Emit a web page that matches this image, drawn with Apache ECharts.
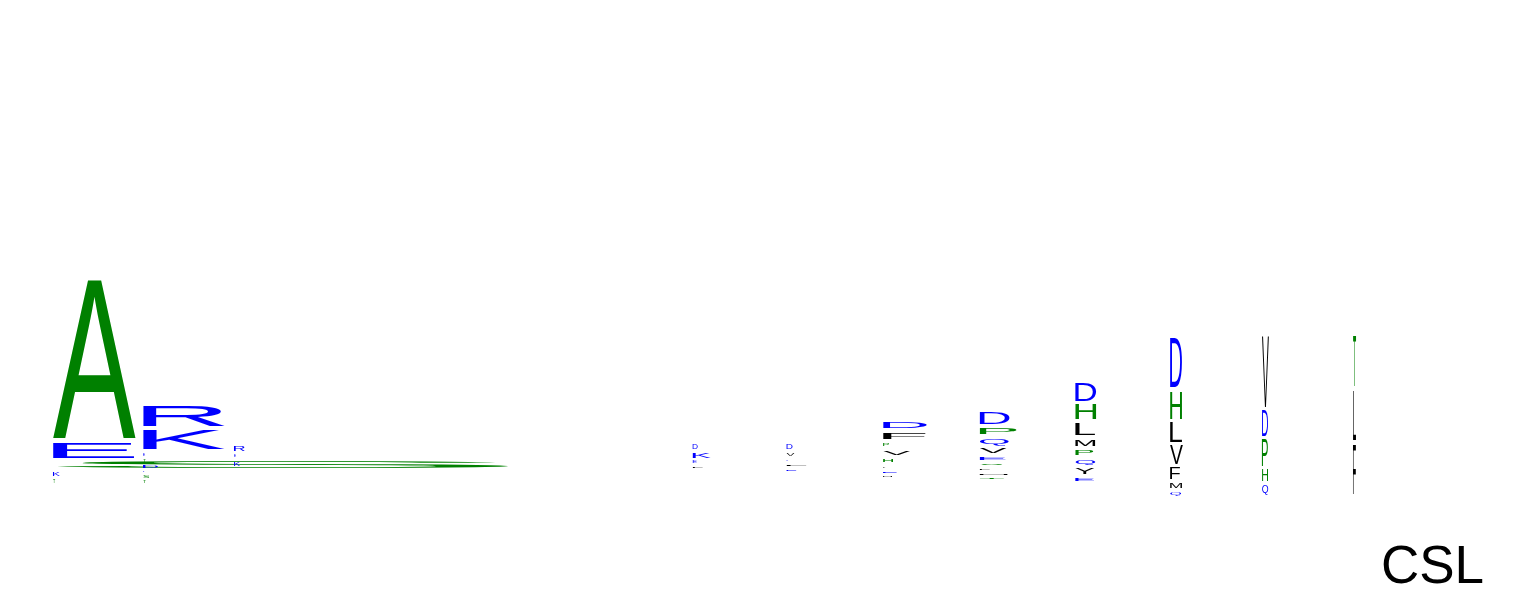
<!DOCTYPE html>
<html>
<head>
<meta charset="utf-8">
<script src="https://cdn.jsdelivr.net/npm/echarts@6/dist/echarts.min.js"></script>
<style>html,body{margin:0;padding:0;background:#fff}#chart{width:1533px;height:600px}</style>
</head>
<body>
<div id="chart"></div>
<script>
// Column left positions (in position units)
const positions = [0, 0.97, 1.95, 6.89, 7.90, 8.94, 9.98, 11.01, 12.03, 13.02, 14.00];
// Letters per column, top to bottom
const letters = [
  ['A','E','S','K','T'],
  ['R','K','E','T','D','E','S','T'],
  ['R','E','K'],
  ['D','K','E','L'],
  ['D','V','E','L','E'],
  ['D','F','P','V','H','L','E','M'],
  ['D','P','Q','V','E','S','L','M','T'],
  ['D','H','L','M','P','Q','Y','E'],
  ['D','H','L','V','F','M','Q'],
  ['V','D','P','H','Q'],
  ['T','L','F']
];
// Upper value of each letter
const tops = [
  [2.20,0.57,0.39,0.28,0.21],
  [0.95,0.70,0.47,0.40,0.34,0.29,0.24,0.19],
  [0.54,0.46,0.38],
  [0.56,0.47,0.39,0.33],
  [0.56,0.47,0.40,0.35,0.30],
  [0.78,0.68,0.57,0.49,0.41,0.33,0.29,0.24],
  [0.87,0.72,0.61,0.52,0.425,0.36,0.315,0.265,0.225],
  [1.17,0.96,0.76,0.60,0.50,0.40,0.32,0.22],
  [1.61,1.08,0.78,0.55,0.32,0.17,0.08],
  [1.63,0.90,0.61,0.30,0.14],
  [1.63,1.09,0.55]
];
// Lower value of each letter
const bottoms = [
  [0.62,0.42,0.32,0.24,0.17],
  [0.74,0.51,0.44,0.38,0.32,0.28,0.22,0.17],
  [0.49,0.43,0.34],
  [0.51,0.42,0.37,0.32],
  [0.51,0.44,0.39,0.34,0.29],
  [0.72,0.615,0.54,0.45,0.38,0.32,0.275,0.23],
  [0.76,0.66,0.55,0.47,0.40,0.35,0.305,0.25,0.21],
  [0.99,0.81,0.65,0.54,0.45,0.35,0.26,0.19],
  [1.13,0.81,0.58,0.36,0.21,0.12,0.045],
  [0.93,0.64,0.34,0.19,0.05],
  [1.13,0.60,0.06]
];
// Width of each letter (position units)
const widths = [
  [0.894,0.883,4.975,0.075,0.022],
  [0.883,0.883,0.022,0.032,0.162,0.011,0.065,0.032],
  [0.118,0.022,0.065],
  [0.054,0.194,0.043,0.108],
  [0.065,0.086,0.011,0.215,0.108],
  [0.474,0.463,0.065,0.291,0.108,0.022,0.151,0.097],
  [0.323,0.398,0.312,0.291,0.280,0.248,0.108,0.302,0.258],
  [0.226,0.226,0.215,0.215,0.194,0.215,0.205,0.205],
  [0.129,0.129,0.129,0.140,0.108,0.129,0.118],
  [0.075,0.065,0.065,0.065,0.065],
  [0.032,0.032,0.032]
];
const colorGroups = {
  blue: 'DEKRQ',
  green: 'AHPSTG',
  black: 'VLMFYIWCN'
};
const groupColor = { blue: '#0000ff', green: '#008000', black: '#000000' };
function letterColor(ch) {
  for (const g in colorGroups) if (colorGroups[g].indexOf(ch) >= 0) return groupColor[g];
  return '#000000';
}

const FONT = '100px "Liberation Sans"';
const mctx = document.createElement('canvas').getContext('2d');
mctx.font = FONT; mctx.textBaseline = 'middle'; mctx.textAlign = 'left';
const metricCache = {};
function metrics(ch) {
  if (!metricCache[ch]) {
    const m = mctx.measureText(ch);
    metricCache[ch] = { L: m.actualBoundingBoxLeft, R: m.actualBoundingBoxRight, A: m.actualBoundingBoxAscent, D: m.actualBoundingBoxDescent };
  }
  return metricCache[ch];
}

const flat = [];
const data = [];
letters.forEach((col, ci) => {
  col.forEach((ch, li) => {
    flat.push(ch);
    data.push([positions[ci], bottoms[ci][li], tops[ci][li], widths[ci][li]]);
  });
});

const chart = echarts.init(document.getElementById('chart'), null, { renderer: 'canvas' });
chart.setOption({
  animation: false,
  backgroundColor: '#ffffff',
  title: {
    text: 'CSL', right: 49, top: 542, padding: 0,
    textStyle: { fontSize: 53, fontWeight: 'normal', color: '#000', fontFamily: 'Liberation Sans' }
  },
  grid: { left: 53, right: 40.7, top: 0, bottom: 100 },
  xAxis: { type: 'value', min: 0, max: 15.5, show: false },
  yAxis: { type: 'value', min: 0, max: 5, show: false },
  series: [{
    type: 'custom',
    data: data,
    encode: { x: 0, y: [1, 2] },
    renderItem: function (params, api) {
      const ch = flat[params.dataIndex];
      const x = api.value(0), b = api.value(1), t = api.value(2), w = api.value(3);
      const p1 = api.coord([x, t]);
      const p2 = api.coord([x + w, b]);
      const rw = p2[0] - p1[0], rh = p2[1] - p1[1];
      const m = metrics(ch);
      const sx = rw / (m.L + m.R), sy = rh / (m.A + m.D);
      return {
        type: 'text',
        silent: true,
        x: p1[0] + m.L * sx,
        y: p1[1] + m.A * sy,
        scaleX: sx,
        scaleY: sy,
        style: { text: ch, font: FONT, fill: letterColor(ch), align: 'left', verticalAlign: 'middle' }
      };
    }
  }]
});
</script>
</body>
</html>
